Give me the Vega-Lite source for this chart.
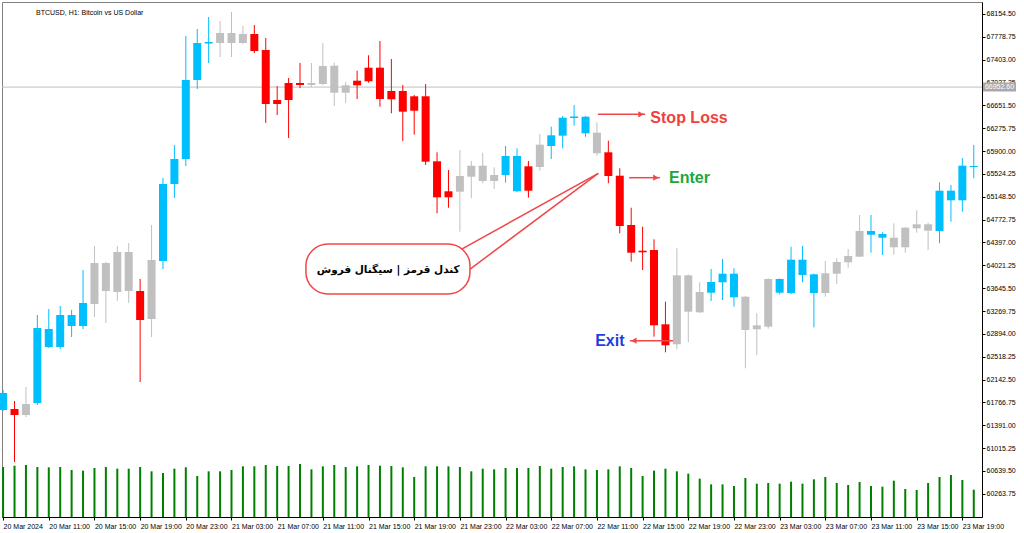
{
  "$schema": "https://vega.github.io/schema/vega-lite/v6.json",
  "width": 980,
  "height": 515,
  "autosize": "none",
  "padding": {"left": 2, "top": 2, "right": 42, "bottom": 16},
  "background": "white",
  "config": {"view": {"stroke": "#808080", "strokeWidth": 1}, "axis": {"labelOverlap": false}},
  "title": {"text": "BTCUSD, H1:  Bitcoin vs US Dollar", "anchor": "start", "frame": "group", "orient": "top", "offset": -14, "dx": 34, "font": "Liberation Sans", "fontSize": 7, "fontWeight": "normal", "color": "#000000"},
  "datasets": {
    "candles": [
      {"t": "2024-03-20T07:00:00Z", "s": "buy", "o": 61642.2, "h": 61971.1, "l": 61625.8, "c": 61921.8, "v": 5000},
      {"t": "2024-03-20T08:00:00Z", "s": "sell", "o": 61658.7, "h": 61790.3, "l": 60787.1, "c": 61560.0, "v": 5133},
      {"t": "2024-03-20T09:00:00Z", "s": "neutral", "o": 61560.0, "h": 62020.5, "l": 61527.1, "c": 61740.9, "v": 5200},
      {"t": "2024-03-20T10:00:00Z", "s": "buy", "o": 61757.4, "h": 63204.5, "l": 61724.5, "c": 62990.7, "v": 5000},
      {"t": "2024-03-20T11:00:00Z", "s": "buy", "o": 62678.3, "h": 63303.2, "l": 62661.9, "c": 62974.3, "v": 4967},
      {"t": "2024-03-20T12:00:00Z", "s": "buy", "o": 62678.3, "h": 63352.5, "l": 62645.4, "c": 63204.5, "v": 5000},
      {"t": "2024-03-20T13:00:00Z", "s": "buy", "o": 63023.6, "h": 63286.8, "l": 62842.7, "c": 63204.5, "v": 4700},
      {"t": "2024-03-20T14:00:00Z", "s": "buy", "o": 63023.6, "h": 63944.5, "l": 62974.3, "c": 63401.9, "v": 4633},
      {"t": "2024-03-20T15:00:00Z", "s": "neutral", "o": 63385.4, "h": 64339.2, "l": 63171.6, "c": 64059.7, "v": 4900},
      {"t": "2024-03-20T16:00:00Z", "s": "neutral", "o": 64059.7, "h": 64076.2, "l": 63073.0, "c": 63599.2, "v": 5000},
      {"t": "2024-03-20T17:00:00Z", "s": "neutral", "o": 63582.8, "h": 64339.2, "l": 63434.8, "c": 64240.6, "v": 4833},
      {"t": "2024-03-20T18:00:00Z", "s": "neutral", "o": 64240.6, "h": 64388.6, "l": 63401.9, "c": 63599.2, "v": 4833},
      {"t": "2024-03-20T19:00:00Z", "s": "sell", "o": 63599.2, "h": 63796.5, "l": 62102.7, "c": 63122.3, "v": 5000},
      {"t": "2024-03-20T20:00:00Z", "s": "neutral", "o": 63138.7, "h": 64684.6, "l": 62842.7, "c": 64109.0, "v": 4567},
      {"t": "2024-03-20T21:00:00Z", "s": "buy", "o": 64092.6, "h": 65457.5, "l": 63961.0, "c": 65358.8, "v": 4400},
      {"t": "2024-03-20T22:00:00Z", "s": "buy", "o": 65358.8, "h": 66000.2, "l": 65128.6, "c": 65769.9, "v": 4833},
      {"t": "2024-03-20T23:00:00Z", "s": "buy", "o": 65769.9, "h": 67792.7, "l": 65654.8, "c": 67069.1, "v": 4967},
      {"t": "2024-03-21T00:00:00Z", "s": "buy", "o": 67069.1, "h": 67907.8, "l": 66921.1, "c": 67677.6, "v": 4100},
      {"t": "2024-03-21T01:00:00Z", "s": "buy", "o": 67669.3, "h": 68105.1, "l": 67348.7, "c": 67694.0, "v": 4567},
      {"t": "2024-03-21T02:00:00Z", "s": "neutral", "o": 67677.6, "h": 68039.4, "l": 67447.3, "c": 67842.0, "v": 4567},
      {"t": "2024-03-21T03:00:00Z", "s": "neutral", "o": 67842.0, "h": 68187.4, "l": 67447.3, "c": 67677.6, "v": 4700},
      {"t": "2024-03-21T04:00:00Z", "s": "neutral", "o": 67677.6, "h": 67957.1, "l": 67661.1, "c": 67825.6, "v": 5067},
      {"t": "2024-03-21T05:00:00Z", "s": "sell", "o": 67825.6, "h": 67973.6, "l": 67513.1, "c": 67546.0, "v": 5067},
      {"t": "2024-03-21T06:00:00Z", "s": "sell", "o": 67562.4, "h": 67759.8, "l": 66362.0, "c": 66674.4, "v": 5200},
      {"t": "2024-03-21T07:00:00Z", "s": "sell", "o": 66740.2, "h": 66970.4, "l": 66493.5, "c": 66674.4, "v": 5100},
      {"t": "2024-03-21T08:00:00Z", "s": "sell", "o": 67019.8, "h": 67102.0, "l": 66115.3, "c": 66740.2, "v": 5100},
      {"t": "2024-03-21T09:00:00Z", "s": "sell", "o": 67019.8, "h": 67348.7, "l": 66937.5, "c": 66986.9, "v": 5300},
      {"t": "2024-03-21T10:00:00Z", "s": "neutral", "o": 66986.9, "h": 67348.7, "l": 66954.0, "c": 67019.8, "v": 4767},
      {"t": "2024-03-21T11:00:00Z", "s": "neutral", "o": 67003.3, "h": 67677.6, "l": 66986.9, "c": 67299.3, "v": 5067},
      {"t": "2024-03-21T12:00:00Z", "s": "neutral", "o": 67304.3, "h": 67353.6, "l": 66641.5, "c": 66860.2, "v": 5200},
      {"t": "2024-03-21T13:00:00Z", "s": "neutral", "o": 66860.2, "h": 67036.2, "l": 66690.9, "c": 66981.9, "v": 5000},
      {"t": "2024-03-21T14:00:00Z", "s": "sell", "o": 67057.6, "h": 67222.0, "l": 66756.6, "c": 66981.9, "v": 5067},
      {"t": "2024-03-21T15:00:00Z", "s": "sell", "o": 67271.4, "h": 67475.3, "l": 67024.7, "c": 67047.7, "v": 5200},
      {"t": "2024-03-21T16:00:00Z", "s": "sell", "o": 67271.4, "h": 67710.5, "l": 66630.0, "c": 66756.6, "v": 5133},
      {"t": "2024-03-21T17:00:00Z", "s": "sell", "o": 66888.2, "h": 67414.4, "l": 66521.5, "c": 66751.7, "v": 5100},
      {"t": "2024-03-21T18:00:00Z", "s": "sell", "o": 66888.2, "h": 66986.9, "l": 66066.0, "c": 66547.8, "v": 4967},
      {"t": "2024-03-21T19:00:00Z", "s": "sell", "o": 66801.0, "h": 66822.4, "l": 66169.6, "c": 66564.2, "v": 4000},
      {"t": "2024-03-21T20:00:00Z", "s": "sell", "o": 66801.0, "h": 67003.3, "l": 65671.3, "c": 65725.5, "v": 5067},
      {"t": "2024-03-21T21:00:00Z", "s": "sell", "o": 65732.1, "h": 65880.1, "l": 64877.0, "c": 65140.1, "v": 5067},
      {"t": "2024-03-21T22:00:00Z", "s": "sell", "o": 65238.8, "h": 65589.0, "l": 64969.1, "c": 65140.1, "v": 5067},
      {"t": "2024-03-21T23:00:00Z", "s": "neutral", "o": 65232.2, "h": 65917.9, "l": 64574.4, "c": 65490.4, "v": 5000},
      {"t": "2024-03-22T00:00:00Z", "s": "neutral", "o": 65478.9, "h": 65737.1, "l": 65123.7, "c": 65659.8, "v": 4567},
      {"t": "2024-03-22T01:00:00Z", "s": "neutral", "o": 65659.8, "h": 65873.5, "l": 65370.3, "c": 65408.2, "v": 4833},
      {"t": "2024-03-22T02:00:00Z", "s": "neutral", "o": 65408.2, "h": 65633.5, "l": 65276.6, "c": 65506.8, "v": 4767},
      {"t": "2024-03-22T03:00:00Z", "s": "buy", "o": 65506.8, "h": 65983.7, "l": 65380.2, "c": 65819.3, "v": 4900},
      {"t": "2024-03-22T04:00:00Z", "s": "buy", "o": 65238.8, "h": 65945.9, "l": 65227.3, "c": 65819.3, "v": 4900},
      {"t": "2024-03-22T05:00:00Z", "s": "sell", "o": 65649.9, "h": 65737.1, "l": 65133.5, "c": 65248.6, "v": 4900},
      {"t": "2024-03-22T06:00:00Z", "s": "neutral", "o": 65638.4, "h": 66181.1, "l": 65577.5, "c": 66005.1, "v": 5100},
      {"t": "2024-03-22T07:00:00Z", "s": "buy", "o": 65983.7, "h": 66301.1, "l": 65769.9, "c": 66159.7, "v": 4833},
      {"t": "2024-03-22T08:00:00Z", "s": "buy", "o": 66153.1, "h": 66477.1, "l": 65945.9, "c": 66449.1, "v": 5000},
      {"t": "2024-03-22T09:00:00Z", "s": "buy", "o": 66444.2, "h": 66658.0, "l": 66317.6, "c": 66468.9, "v": 5067},
      {"t": "2024-03-22T10:00:00Z", "s": "buy", "o": 66192.6, "h": 66477.1, "l": 66136.7, "c": 66465.6, "v": 4767},
      {"t": "2024-03-22T11:00:00Z", "s": "neutral", "o": 66202.4, "h": 66373.5, "l": 65824.2, "c": 65863.7, "v": 4700},
      {"t": "2024-03-22T12:00:00Z", "s": "sell", "o": 65880.1, "h": 66070.9, "l": 65370.3, "c": 65490.4, "v": 4767},
      {"t": "2024-03-22T13:00:00Z", "s": "sell", "o": 65495.3, "h": 65617.0, "l": 64548.1, "c": 64668.1, "v": 5067},
      {"t": "2024-03-22T14:00:00Z", "s": "sell", "o": 64684.6, "h": 64969.1, "l": 64081.0, "c": 64229.0, "v": 4900},
      {"t": "2024-03-22T15:00:00Z", "s": "sell", "o": 64261.9, "h": 64656.6, "l": 63944.5, "c": 64235.6, "v": 4100},
      {"t": "2024-03-22T16:00:00Z", "s": "sell", "o": 64273.4, "h": 64449.4, "l": 62847.7, "c": 63035.1, "v": 4633},
      {"t": "2024-03-22T17:00:00Z", "s": "sell", "o": 63051.6, "h": 63423.2, "l": 62591.1, "c": 62706.2, "v": 4833},
      {"t": "2024-03-22T18:00:00Z", "s": "neutral", "o": 62722.7, "h": 64301.4, "l": 62640.5, "c": 63857.4, "v": 4567},
      {"t": "2024-03-22T19:00:00Z", "s": "neutral", "o": 63857.4, "h": 63870.5, "l": 62755.6, "c": 63258.8, "v": 4333},
      {"t": "2024-03-22T20:00:00Z", "s": "neutral", "o": 63248.9, "h": 63742.3, "l": 63237.4, "c": 63582.8, "v": 3833},
      {"t": "2024-03-22T21:00:00Z", "s": "buy", "o": 63571.2, "h": 63961.0, "l": 63434.8, "c": 63747.2, "v": 3267},
      {"t": "2024-03-22T22:00:00Z", "s": "buy", "o": 63742.3, "h": 64125.4, "l": 63451.2, "c": 63883.7, "v": 3267},
      {"t": "2024-03-22T23:00:00Z", "s": "buy", "o": 63495.6, "h": 63972.5, "l": 63341.0, "c": 63883.7, "v": 3100},
      {"t": "2024-03-23T00:00:00Z", "s": "neutral", "o": 63505.5, "h": 63517.0, "l": 62328.0, "c": 62957.8, "v": 3900},
      {"t": "2024-03-23T01:00:00Z", "s": "neutral", "o": 62969.4, "h": 63232.5, "l": 62546.7, "c": 63035.1, "v": 3333},
      {"t": "2024-03-23T02:00:00Z", "s": "neutral", "o": 63012.1, "h": 63808.1, "l": 62979.2, "c": 63796.5, "v": 3400},
      {"t": "2024-03-23T03:00:00Z", "s": "buy", "o": 63571.2, "h": 63804.8, "l": 63544.9, "c": 63796.5, "v": 3333},
      {"t": "2024-03-23T04:00:00Z", "s": "buy", "o": 63566.3, "h": 64327.7, "l": 63544.9, "c": 64113.9, "v": 3533},
      {"t": "2024-03-23T05:00:00Z", "s": "buy", "o": 63862.3, "h": 64339.2, "l": 63742.3, "c": 64113.9, "v": 3333},
      {"t": "2024-03-23T06:00:00Z", "s": "buy", "o": 63566.3, "h": 63887.0, "l": 63002.2, "c": 63873.8, "v": 3767},
      {"t": "2024-03-23T07:00:00Z", "s": "neutral", "o": 63566.3, "h": 64092.6, "l": 63505.5, "c": 63890.3, "v": 4000},
      {"t": "2024-03-23T08:00:00Z", "s": "neutral", "o": 63883.7, "h": 64137.0, "l": 63714.3, "c": 64076.1, "v": 3400},
      {"t": "2024-03-23T09:00:00Z", "s": "neutral", "o": 64071.2, "h": 64289.9, "l": 63982.4, "c": 64174.8, "v": 3200},
      {"t": "2024-03-23T10:00:00Z", "s": "neutral", "o": 64163.3, "h": 64849.0, "l": 64158.4, "c": 64585.9, "v": 3500},
      {"t": "2024-03-23T11:00:00Z", "s": "buy", "o": 64525.1, "h": 64849.0, "l": 64229.0, "c": 64585.9, "v": 3100},
      {"t": "2024-03-23T12:00:00Z", "s": "buy", "o": 64475.7, "h": 64564.5, "l": 64191.2, "c": 64536.6, "v": 3033},
      {"t": "2024-03-23T13:00:00Z", "s": "neutral", "o": 64475.7, "h": 64712.5, "l": 64196.2, "c": 64317.9, "v": 3633},
      {"t": "2024-03-23T14:00:00Z", "s": "neutral", "o": 64317.9, "h": 64651.7, "l": 64229.0, "c": 64640.2, "v": 2800},
      {"t": "2024-03-23T15:00:00Z", "s": "neutral", "o": 64630.3, "h": 64926.3, "l": 64557.9, "c": 64696.1, "v": 2700},
      {"t": "2024-03-23T16:00:00Z", "s": "neutral", "o": 64696.1, "h": 64722.4, "l": 64273.4, "c": 64590.8, "v": 3400},
      {"t": "2024-03-23T17:00:00Z", "s": "buy", "o": 64585.9, "h": 65386.8, "l": 64383.6, "c": 65248.6, "v": 4000},
      {"t": "2024-03-23T18:00:00Z", "s": "buy", "o": 65090.8, "h": 65342.4, "l": 64738.8, "c": 65248.6, "v": 4200},
      {"t": "2024-03-23T19:00:00Z", "s": "buy", "o": 65090.8, "h": 65786.4, "l": 64903.3, "c": 65659.8, "v": 3700},
      {"t": "2024-03-23T20:00:00Z", "s": "buy", "o": 65638.4, "h": 66000.2, "l": 65452.6, "c": 65654.8, "v": 2733}
    ],
    "labels": [
      {"label": "Stop Loss", "t": "2024-03-22T19:04:00Z", "p": 66444.2},
      {"label": "Enter", "t": "2024-03-22T19:06:00Z", "p": 65457.5},
      {"label": "Exit", "t": "2024-03-22T12:08:00Z", "p": 62777.0}
    ],
    "arrows": [
      {"name": "sl", "t1": "2024-03-22T11:05:00Z", "t2": "2024-03-22T15:13:00Z", "p": 66505.1},
      {"name": "enter", "t1": "2024-03-22T13:49:00Z", "t2": "2024-03-22T16:31:00Z", "p": 65462.5},
      {"name": "exit", "t1": "2024-03-22T13:53:00Z", "t2": "2024-03-22T17:40:00Z", "p": 62781.9}
    ],
    "heads": [
      {"name": "sl", "dir": "right", "t": "2024-03-22T14:52:00Z", "p": 66505.1},
      {"name": "enter", "dir": "right", "t": "2024-03-22T16:10:00Z", "p": 65462.5},
      {"name": "exit", "dir": "left", "t": "2024-03-22T14:14:00Z", "p": 62781.9}
    ],
    "tails": [
      {"t1": "2024-03-21T22:34:00Z", "p1": 64225.8, "t2": "2024-03-22T11:07:00Z", "p2": 65534.8},
      {"t1": "2024-03-21T23:01:00Z", "p1": 63836.0, "t2": "2024-03-22T11:07:00Z", "p2": 65534.8}
    ],
    "bubble": [
      {"t1": "2024-03-21T09:31:00Z", "t2": "2024-03-21T23:53:00Z", "p1": 64372.2, "p2": 63549.9, "tc": "2024-03-21T16:43:00Z", "pc": 63944.6, "text": "کندل قرمز | سیگنال فروش"}
    ],
    "bid": [
      {"p": 66952.6, "t1": "2024-03-23T20:48:00Z", "t2": "2024-03-23T23:42:00Z", "tc": "2024-03-23T22:15:00Z", "p1": 67027.0, "p2": 66878.0}
    ]
  },
  "layer": [
    {
      "data": {"name": "candles"},
      "mark": {"type": "rule", "color": "#008000", "strokeWidth": 2},
      "encoding": {
        "x": {"field": "t", "type": "temporal", "scale": {"domain": [1710917653300, 1711226592000], "nice": false, "padding": 0}},
        "y": {"field": "v", "type": "quantitative", "scale": {"domain": [0, 51500], "nice": false, "zero": true, "padding": 0}, "axis": null},
        "y2": {"datum": 0}
      }
    },
    {
      "layer": [
        {
          "data": {"name": "bid"},
          "mark": {"type": "rule", "color": "#C0C0C0", "strokeWidth": 1},
          "encoding": {
            "y": {"field": "p", "type": "quantitative", "scale": {"domain": [59882.6, 68351.8], "nice": false, "zero": false, "padding": 0},
              "axis": {"orient": "right", "values": [60263.75, 60639.5, 61015.25, 61391.0, 61766.75, 62142.5, 62518.25, 62894.0, 63269.75, 63645.5, 64021.25, 64397.0, 64772.75, 65148.5, 65524.25, 65900.0, 66275.75, 66651.5, 67027.25, 67403.0, 67778.75, 68154.5],
                "tickCount": 40, "format": ".2f", "title": null, "grid": false, "tickSize": 3, "labelPadding": 1,
                "domainColor": "#000000", "tickColor": "#000000", "labelColor": "#000000", "labelFont": "Liberation Sans", "labelFontSize": 7, "labelOverlap": false}}
          }
        },
        {
          "data": {"name": "candles"},
          "mark": {"type": "rule", "strokeWidth": 1},
          "encoding": {
            "x": {"field": "t", "type": "temporal",
              "axis": {"values": [1710918000000, 1710932400000, 1710946800000, 1710961200000, 1710975600000, 1710990000000, 1711004400000, 1711018800000, 1711033200000, 1711047600000, 1711062000000, 1711076400000, 1711090800000, 1711105200000, 1711119600000, 1711134000000, 1711148400000, 1711162800000, 1711177200000, 1711191600000, 1711206000000, 1711220400000],
                "tickCount": 40,
                "labelExpr": "time(datum.value) == 1710918000000 ? '20 Mar 2024' : utcFormat(datum.value, '%d %b %H:%M')",
                "labelAlign": "left", "labelBaseline": "top", "labelPadding": 2, "tickSize": 3, "grid": false, "title": null,
                "domainColor": "#000000", "tickColor": "#000000", "labelColor": "#000000", "labelFont": "Liberation Sans", "labelFontSize": 7, "labelOverlap": false, "labelFlush": false}},
            "y": {"field": "l", "type": "quantitative"},
            "y2": {"field": "h"},
            "color": {"field": "s", "type": "nominal", "scale": {"domain": ["buy", "sell", "neutral"], "range": ["#00BFFF", "#FF0000", "#C0C0C0"]}, "legend": null}
          }
        },
        {
          "data": {"name": "candles"},
          "mark": {"type": "bar", "width": 8},
          "encoding": {
            "x": {"field": "t", "type": "temporal"},
            "y": {"field": "o", "type": "quantitative"},
            "y2": {"field": "c"},
            "color": {"field": "s", "type": "nominal", "scale": {"domain": ["buy", "sell", "neutral"], "range": ["#00BFFF", "#FF0000", "#C0C0C0"]}, "legend": null}
          }
        },
        {
          "data": {"name": "bid"},
          "mark": {"type": "rect", "color": "#A9A9A9", "clip": false},
          "encoding": {
            "x": {"field": "t1", "type": "temporal"},
            "x2": {"field": "t2"},
            "y": {"field": "p1", "type": "quantitative"},
            "y2": {"field": "p2"}
          }
        },
        {
          "data": {"name": "bid"},
          "mark": {"type": "text", "color": "#FFFFFF", "font": "Liberation Sans", "fontSize": 7, "align": "center", "baseline": "middle", "clip": false},
          "encoding": {
            "x": {"field": "tc", "type": "temporal"},
            "y": {"field": "p", "type": "quantitative"},
            "text": {"field": "p", "type": "quantitative", "format": ".2f"}
          }
        },
        {
          "data": {"name": "tails"},
          "mark": {"type": "rule", "color": "#F04848", "strokeWidth": 1.5},
          "encoding": {
            "x": {"field": "t1", "type": "temporal"},
            "x2": {"field": "t2"},
            "y": {"field": "p1", "type": "quantitative"},
            "y2": {"field": "p2"}
          }
        },
        {
          "data": {"name": "bubble"},
          "mark": {"type": "rect", "fill": "#FFFFFF", "stroke": "#F04848", "strokeWidth": 1.5, "cornerRadius": 22},
          "encoding": {
            "x": {"field": "t1", "type": "temporal"},
            "x2": {"field": "t2"},
            "y": {"field": "p1", "type": "quantitative"},
            "y2": {"field": "p2"}
          }
        },
        {
          "data": {"name": "bubble"},
          "mark": {"type": "text", "font": "DejaVu Sans", "fontWeight": "bold", "fontSize": 10.5, "color": "#000000", "align": "center", "baseline": "middle"},
          "encoding": {
            "x": {"field": "tc", "type": "temporal"},
            "y": {"field": "pc", "type": "quantitative"},
            "text": {"field": "text"}
          }
        },
        {
          "data": {"name": "arrows"},
          "mark": {"type": "rule", "color": "#F04848", "strokeWidth": 1.5},
          "encoding": {
            "x": {"field": "t1", "type": "temporal"},
            "x2": {"field": "t2"},
            "y": {"field": "p", "type": "quantitative"}
          }
        },
        {
          "data": {"name": "heads"},
          "mark": {"type": "point", "filled": true, "color": "#F04848", "opacity": 1, "size": 40},
          "encoding": {
            "x": {"field": "t", "type": "temporal"},
            "y": {"field": "p", "type": "quantitative"},
            "shape": {"field": "dir", "type": "nominal", "scale": {"domain": ["right", "left"], "range": ["triangle-right", "triangle-left"]}, "legend": null}
          }
        },
        {
          "data": {"name": "labels"},
          "mark": {"type": "text", "font": "Liberation Sans", "fontWeight": "bold", "fontSize": 16, "align": "center", "baseline": "middle"},
          "encoding": {
            "x": {"field": "t", "type": "temporal"},
            "y": {"field": "p", "type": "quantitative"},
            "text": {"field": "label"},
            "color": {"field": "label", "type": "nominal", "scale": {"domain": ["Stop Loss", "Enter", "Exit"], "range": ["#F04040", "#22A63A", "#1E3FE0"]}, "legend": null}
          }
        }
      ],
      "resolve": {"scale": {"color": "independent"}}
    }
  ],
  "resolve": {"scale": {"y": "independent"}}
}
